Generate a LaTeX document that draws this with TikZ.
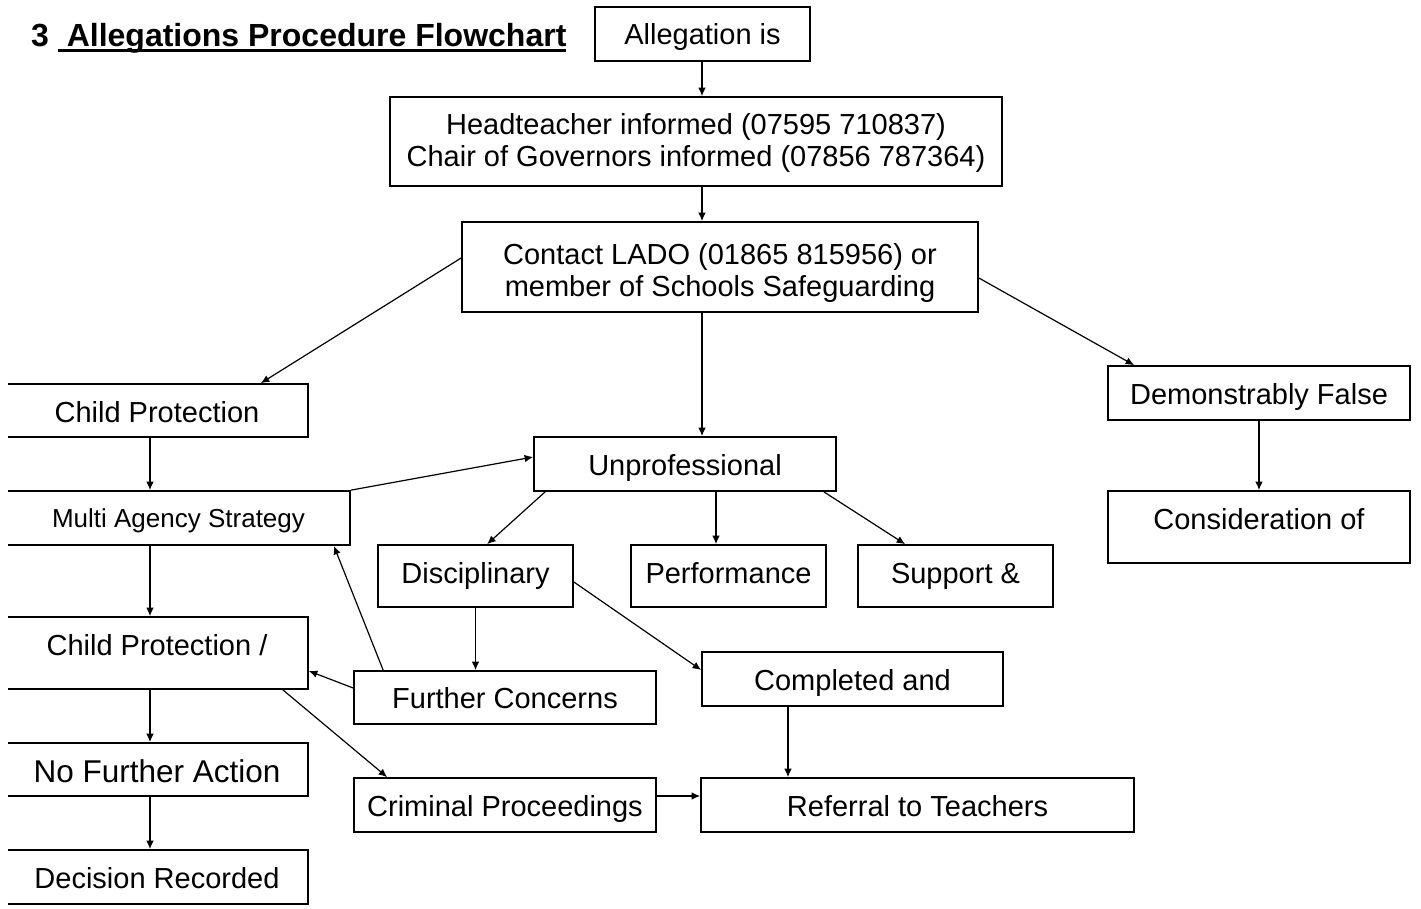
\documentclass[tikz,border=0pt]{standalone}
\usepackage{fontspec}
\setmainfont{Liberation Sans}
\newcommand\ulbar[1]{\setbox0\hbox{#1}\rlap{\rule[-5pt]{\wd0}{2.5pt}}\box0}
\usetikzlibrary{arrows.meta}
\tikzset{
  box/.style={draw,line width=1.7pt,inner sep=0pt,align=center,text height=38pt,font=\fontsize{29}{32.5}\selectfont},
  arr/.style={-{Latex[length=8.5pt,width=7.5pt]},line width=1.2pt},
}
\begin{document}
\begin{tikzpicture}[x=1pt,y=-1pt]
\useasboundingbox(0,0)rectangle(1421,909);
\node[anchor=base west,inner sep=0pt,font=\bfseries\fontsize{32}{36}\selectfont](title)at(31,47){3 \ulbar{\ Allegations Procedure Flowchart}};
%
\node[box,minimum width=215,text depth=16pt](alleg)at(702.5,34){Allegation is};
\node[box,minimum width=612,text height=70pt,text depth=19pt](head)at(696,141.5){Headteacher informed (07595 710837)\\Chair of Governors informed (07856 787364)};
\node[box,minimum width=516,text height=75pt,text depth=15pt](lado)at(720,267){Contact LADO (01865 815956) or\\member of Schools Safeguarding};
\node[box,minimum width=302,text depth=16pt](false)at(1259,393){Demonstrably False};
\node[box,minimum width=302,text depth=34pt](cons)at(1259,527){Consideration of};
%
\begin{scope}
\clip(8,0)rectangle(1421,909);
\node[box,minimum width=302,text depth=15pt](cp)at(157,410.5){Child Protection};
\node[box,minimum width=343,text height=36pt,text depth=18pt,font=\fontsize{26}{30}\selectfont](multi)at(178.5,518){Multi Agency Strategy};
\node[box,minimum width=302,text depth=34pt](cpsl)at(157,653){Child Protection /};
\node[box,minimum width=302,text height=39pt,text depth=14pt,font=\fontsize{31.5}{35}\selectfont](nfa)at(157,769.5){No Further Action};
\node[box,minimum width=302,text depth=16pt](dec)at(157,877){Decision Recorded};
\end{scope}
%
\node[box,minimum width=302,text depth=16pt](unprof)at(685,464){Unprofessional};
\node[box,minimum width=195,text depth=24pt](disc)at(475.5,576){Disciplinary};
\node[box,minimum width=195,text depth=24pt](perf)at(728.5,576){Performance};
\node[box,minimum width=195,text depth=24pt](supp)at(955.5,576){Support \&};
\node[box,minimum width=302,text height=37pt,text depth=16pt](further)at(505,697.5){Further Concerns};
\node[box,minimum width=301,text depth=16pt](compl)at(852.5,679){Completed and};
\node[box,minimum width=302,text depth=16pt](crim)at(505,805){Criminal Proceedings};
\node[box,minimum width=433,text depth=16pt](refer)at(917.5,805){Referral to Teachers};
%
\coordinate(colL)at(150,0);
\coordinate(colM)at(702,0);
\coordinate(colP)at(716,0);
\coordinate(colC)at(788,0);
%
\draw[arr](alleg.south-|colM)--(head.north-|colM);
\draw[arr](head.south-|colM)--(lado.north-|colM);
\draw[arr](lado.south-|colM)--(unprof.north-|colM);
\draw[arr]([yshift=9pt]lado.west)--([xshift=-48pt]cp.north east);
\draw[arr]([yshift=-11pt]lado.east)--([xshift=27pt]false.north west);
\draw[arr](false.south)--(cons.north);
%
\draw[arr](cp.south-|colL)--(multi.north-|colL);
\draw[arr](multi.south-|colL)--(cpsl.north-|colL);
\draw[arr](cpsl.south-|colL)--(nfa.north-|colL);
\draw[arr](nfa.south-|colL)--(dec.north-|colL);
\draw[arr](multi.north east)--([yshift=7pt]unprof.west);
%
\draw[arr]([xshift=12pt]unprof.south west)--([xshift=110pt]disc.north west);
\draw[arr](unprof.south-|colP)--(perf.north-|colP);
\draw[arr]([xshift=-13pt]unprof.south east)--([xshift=48pt]supp.north west);
\draw[arr](disc.south)--(disc.south|-further.north);
\draw[arr]([yshift=-6pt]disc.east)--([yshift=9pt]compl.west);
\draw[arr]([xshift=30pt]further.north west)--([xshift=-17pt]multi.south east);
\draw[arr]([yshift=9.5pt]further.west)--([yshift=-18pt]cpsl.east);
\draw[arr]([xshift=-26pt]cpsl.south east)--([xshift=34pt]crim.north west);
\draw[arr]([yshift=9pt]crim.east)--([yshift=9pt]refer.west);
\draw[arr](compl.south-|colC)--(refer.north-|colC);
\end{tikzpicture}
\end{document}
